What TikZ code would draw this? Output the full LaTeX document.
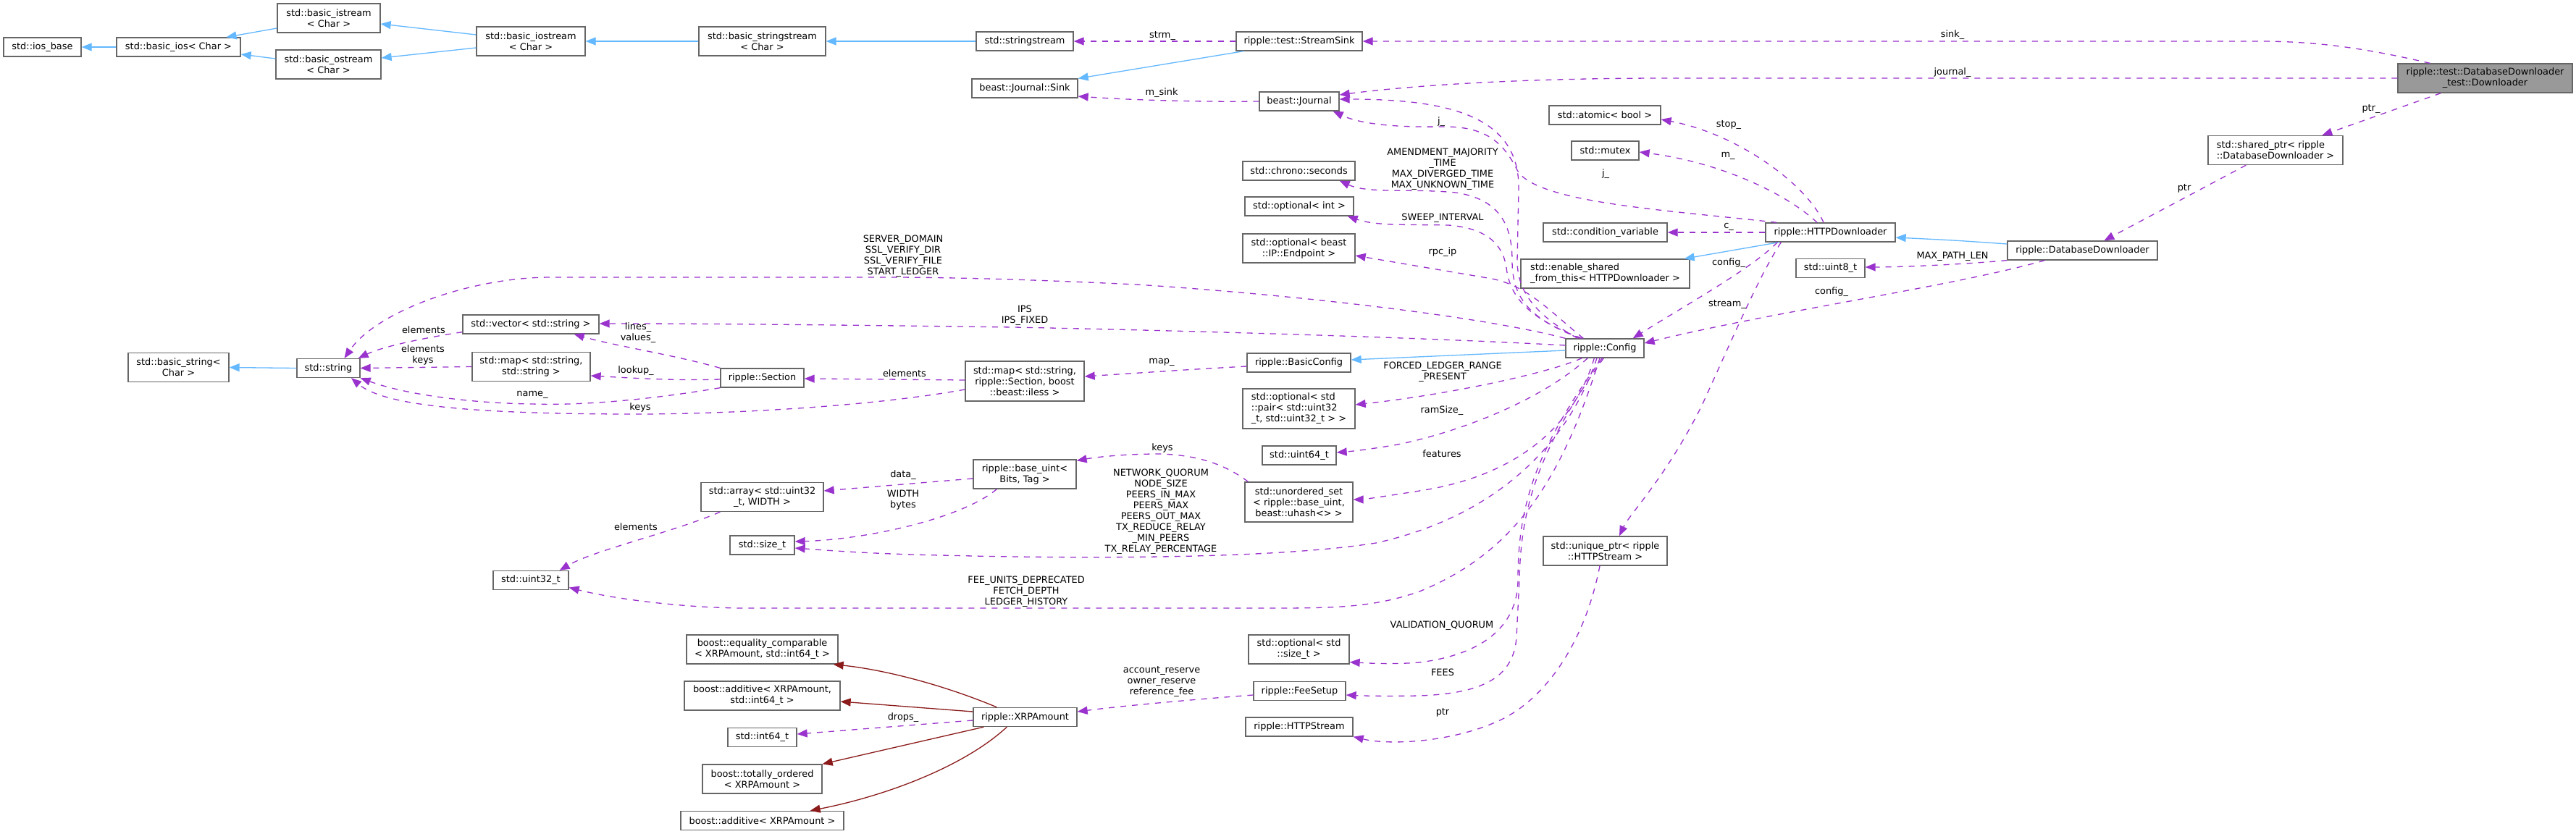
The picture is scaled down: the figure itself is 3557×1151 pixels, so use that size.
\documentclass[tikz,border=0pt]{standalone}
\usepackage{fontspec}
\setmainfont{DejaVu Sans}
\usetikzlibrary{arrows.meta}
\definecolor{inhc}{HTML}{63B8FF}
\definecolor{usec}{HTML}{9A32CD}
\definecolor{privc}{HTML}{8B1A1A}
\definecolor{bordc}{HTML}{666666}
\definecolor{mainc}{HTML}{999999}
\begin{document}
\begin{tikzpicture}[x=1pt,y=-1pt,
  every node/.style={font=\fontsize{12.9}{15}\selectfont},
  nbox/.style={draw=bordc,line width=1.3pt,fill=white,inner sep=1pt,align=center},
  sz/.style 2 args={minimum width=#1pt,minimum height=#2pt},
  lbl/.style={inner sep=0pt,align=center},
  inh/.style={draw=inhc,line width=1.3pt,-{Triangle[length=14pt,width=11pt]}},
  priv/.style={draw=privc,line width=1.3pt,-{Triangle[length=14pt,width=11pt]}},
  usage/.style={draw=usec,line width=1.3pt,dash pattern=on 8pt off 8pt,-{Triangle[length=14pt,width=11pt]}}]
\useasboundingbox (0,0) rectangle (3557,1151);
\fill[white] (0,0) rectangle (3557,1151);

% nodes
\node[nbox,sz={107}{26}] (iosbase) at (58.5,65) {std::ios\_base};
\node[nbox,sz={171}{26}] (basicios) at (246.5,65) {std::basic\_ios< Char >};
\node[nbox,sz={142}{40}] (istream) at (454,25) {std::basic\_istream\\< Char >};
\node[nbox,sz={145}{40}] (ostream) at (453.5,89) {std::basic\_ostream\\< Char >};
\node[nbox,sz={150}{40}] (iostream) at (733,57) {std::basic\_iostream\\< Char >};
\node[nbox,sz={175}{40}] (bsstream) at (1052.5,57) {std::basic\_stringstream\\< Char >};
\node[nbox,sz={134}{26}] (sstream) at (1415,57) {std::stringstream};
\node[nbox,sz={146}{26}] (sink) at (1415,122) {beast::Journal::Sink};
\node[nbox,sz={174}{26}] (streamsink) at (1794,57) {ripple::test::StreamSink};
\node[nbox,sz={110}{26}] (journal) at (1794,140) {beast::Journal};
\node[nbox,sz={155}{26}] (seconds) at (1793.5,236) {std::chrono::seconds};
\node[nbox,sz={150}{26}] (optint) at (1794,285) {std::optional< int >};
\node[nbox,sz={155}{40}] (optep) at (1793.5,343) {std::optional< beast\\::IP::Endpoint >};
\node[nbox,sz={154}{26}] (atomic) at (2216,159) {std::atomic< bool >};
\node[nbox,sz={93}{26}] (mutex) at (2216.5,208) {std::mutex};
\node[nbox,sz={171}{26}] (condvar) at (2216.5,321) {std::condition\_variable};
\node[nbox,sz={179}{26}] (httpdl) at (2527.5,321) {ripple::HTTPDownloader};
\node[nbox,sz={233}{40},align=left] (enablesh) at (2216.5,378) {std::enable\_shared\\\_from\_this< HTTPDownloader >};
\node[nbox,sz={95}{26}] (uint8) at (2527.5,370.5) {std::uint8\_t};
\node[nbox,sz={241}{40},fill=mainc] (test) at (3431.5,108) {ripple::test::DatabaseDownloader\\\_test::Downloader};
\node[nbox,sz={186}{40},align=left] (sharedptr) at (3142,207.5) {std::shared\_ptr< ripple\\::DatabaseDownloader >};
\node[nbox,sz={207}{26}] (dbdl) at (2875.5,346) {ripple::DatabaseDownloader};
\node[nbox,sz={139}{40}] (basicstr) at (246.5,507.5) {std::basic\_string<\\Char >};
\node[nbox,sz={87}{26}] (string) at (453.5,508.5) {std::string};
\node[nbox,sz={188}{26}] (vecstr) at (733,448) {std::vector< std::string >};
\node[nbox,sz={163}{40}] (mapss) at (733.5,506.5) {std::map< std::string,\\std::string >};
\node[nbox,sz={115}{26}] (section) at (1052.5,522) {ripple::Section};
\node[nbox,sz={164}{55}] (mapsec) at (1415,526.5) {std::map< std::string,\\ripple::Section, boost\\::beast::iless >};
\node[nbox,sz={143}{26}] (basiccfg) at (1793.5,501) {ripple::BasicConfig};
\node[nbox,sz={155}{55},align=left] (optpair) at (1793.5,564.5) {std::optional< std\\::pair< std::uint32\\\_t, std::uint32\_t > >};
\node[nbox,sz={102}{26}] (uint64) at (1794,629) {std::uint64\_t};
\node[nbox,sz={149}{55}] (uset) at (1793.5,693.5) {std::unordered\_set\\< ripple::base\_uint,\\beast::uhash<> >};
\node[nbox,sz={108}{26}] (config) at (2216,481) {ripple::Config};
\node[nbox,sz={171}{40}] (uniqptr) at (2216.5,761) {std::unique\_ptr< ripple\\::HTTPStream >};
\node[nbox,sz={142}{40}] (baseuint) at (1415,655) {ripple::base\_uint<\\Bits, Tag >};
\node[nbox,sz={169}{40}] (array) at (1052.5,686.5) {std::array< std::uint32\\\_t, WIDTH >};
\node[nbox,sz={89}{26}] (sizet) at (1052.5,753) {std::size\_t};
\node[nbox,sz={104}{26}] (uint32) at (733,801.5) {std::uint32\_t};
\node[nbox,sz={209}{40}] (eqcmp) at (1052.5,897) {boost::equality\_comparable\\< XRPAmount, std::int64\_t >};
\node[nbox,sz={215}{40}] (addint) at (1052.5,961) {boost::additive< XRPAmount,\\std::int64\_t >};
\node[nbox,sz={95}{26}] (int64) at (1052.5,1018.5) {std::int64\_t};
\node[nbox,sz={165}{40}] (totord) at (1052.5,1076) {boost::totally\_ordered\\< XRPAmount >};
\node[nbox,sz={225}{26}] (addx) at (1052.5,1133.5) {boost::additive< XRPAmount >};
\node[nbox,sz={143}{26}] (xrp) at (1415.5,990.5) {ripple::XRPAmount};
\node[nbox,sz={139}{40}] (optsize) at (1793.5,897) {std::optional< std\\::size\_t >};
\node[nbox,sz={127}{26}] (feesetup) at (1794.5,954.5) {ripple::FeeSetup};
\node[nbox,sz={148}{26}] (httpstream) at (1794,1004) {ripple::HTTPStream};

% inheritance
\draw[inh] (basicios.west) -- (iosbase.east);
\draw[inh] ([yshift=-14]istream.west) -- ([xshift=66]basicios.north);
\draw[inh] ([yshift=8]ostream.west) -- ([yshift=-10]basicios.east);
\draw[inh] ([yshift=9]iostream.west) -- ([yshift=-8]istream.east);
\draw[inh] ([yshift=-9]iostream.west) -- ([yshift=9]ostream.east);
\draw[inh] (bsstream.west) -- (iostream.east);
\draw[inh] (sstream.west) -- (bsstream.east);
\draw[inh] ([xshift=11]streamsink.south west) -- (sink.north east);
\draw[inh] (string.west) -- (basicstr.east);
\draw[inh] ([yshift=-3]config.west) -- ([yshift=4]basiccfg.east);
\draw[inh] ([xshift=19]httpdl.south west) -- ([xshift=-8]enablesh.north east);
\draw[inh] ([yshift=9]dbdl.west) .. controls (2700,332) .. ([yshift=-7]httpdl.east);

% private inheritance
\draw[priv] ([xshift=33]xrp.north west) .. controls (1300,945) and (1220,925) .. ([xshift=-7]eqcmp.south east);
\draw[priv] ([yshift=7.5]xrp.west) -- ([yshift=-8]addint.east);
\draw[priv] ([xshift=15]xrp.south west) -- (totord.north east);
\draw[priv] ([xshift=47]xrp.south west) .. controls (1330,1060) and (1220,1100) .. ([xshift=-47]addx.north east);

% usage
\draw[usage] (streamsink.west) -- (sstream.east);
\draw[usage] (journal.west) .. controls (1650,141) and (1560,138) .. ([yshift=-11]sink.east);
\draw[usage] ([xshift=45]test.north west) .. controls (3280,70) and (3210,57) .. (3120,57) -- (streamsink.east);
\draw[usage] (test.west) -- (2300,108) .. controls (2100,108) and (1950,118) .. ([yshift=9]journal.east);
\draw[usage] ([xshift=60]test.south west) -- ([xshift=158]sharedptr.north west);
\draw[usage] ([xshift=53]sharedptr.south west) -- ([xshift=134]dbdl.north west);
\draw[usage] ([xshift=16]httpdl.north west) .. controls (2300,290) and (2120,280) .. (2095,235) .. controls (2075,195) and (2050,174) .. (1990,175) .. controls (1930,176) and (1880,172) .. ([xshift=-9]journal.south east);
\draw[usage] ([xshift=17]config.north west) .. controls (2130,440) and (2095,410) .. (2095,360) -- (2097,260) .. controls (2098,160) and (2000,137) .. ([yshift=3]journal.east);
\draw[usage] ([xshift=21]config.north west) .. controls (2110,440) and (2088,410) .. (2088,360) .. controls (2088,310) and (2070,275) .. (2010,266) .. controls (1950,260) and (1890,268) .. ([xshift=-22]seconds.south east);
\draw[usage] ([xshift=23]config.north west) .. controls (2110,440) and (2085,410) .. (2080,370) .. controls (2075,335) and (2050,315) .. (2000,311) .. controls (1940,310) and (1900,312) .. ([xshift=-9]optint.south east);
\draw[usage] ([xshift=25]config.north west) .. controls (2140,430) and (2110,395) .. (2060,385) -- ([yshift=-10]optep.east);
\draw[usage] (config.north west) .. controls (2050,438) and (1800,408) .. (1569,393) .. controls (1400,385) and (1300,383) .. (1224,383) -- (760,383) .. controls (650,383) and (520,430) .. ([xshift=22]string.north);
\draw[usage] ([yshift=4]config.west) .. controls (2000,468) and (1700,458) .. (1400,452) .. controls (1100,448) and (950,447) .. ([yshift=1]vecstr.east);
\draw[usage] (section.north west) .. controls (930,490) and (850,478) .. ([xshift=-35]vecstr.south east);
\draw[usage] ([yshift=3]vecstr.south west) .. controls (590,466) and (530,478) .. ([xshift=-3]string.north east);
\draw[usage] (mapss.west) -- (string.east);
\draw[usage] ([yshift=-2]section.west) .. controls (930,526) and (870,522) .. ([yshift=-12.5]mapss.east);
\draw[usage] (section.south west) .. controls (880,555) and (790,560) .. (735,558) .. controls (650,557) and (560,545) .. (string.south east);
\draw[usage] ([yshift=-11.5]mapsec.west) .. controls (1200,562) and (1000,572) .. (880,572) .. controls (650,572) and (530,560) .. ([xshift=31.5]string.south);
\draw[usage] ([yshift=1.5]mapsec.west) -- ([yshift=-1]section.east);
\draw[usage] ([yshift=-5]basiccfg.west) .. controls (1650,510) .. ([yshift=6.5]mapsec.east);
\draw[usage] ([yshift=-6]baseuint.west) -- ([yshift=8.5]array.east);
\draw[usage] ([xshift=33]baseuint.south west) .. controls (1330,715) and (1200,745) .. ([yshift=5]sizet.east);
\draw[usage] ([xshift=27]array.south west) .. controls (930,735) and (820,760) .. ([xshift=-13]uint32.north east);
\draw[usage] ([xshift=5]uset.north west) .. controls (1690,640) and (1650,628) .. (1600,627) .. controls (1550,627) and (1510,632) .. ([yshift=-2]baseuint.north east);
\draw[usage] ([xshift=-11]config.south) .. controls (2170,600) and (2080,710) .. (1900,750) .. controls (1760,772) and (1500,772) .. (1300,767) .. controls (1200,765) and (1140,760) .. ([yshift=-4]sizet.east);
\draw[usage] ([xshift=-7]config.south) .. controls (2160,650) and (2100,760) .. (1960,817) .. controls (1900,838) and (1850,840) .. (1760,840) -- (1030,840) .. controls (950,840) and (850,828) .. ([yshift=-10]uint32.east);
\draw[usage] ([xshift=23]config.south west) .. controls (2140,515) and (2000,545) .. ([yshift=5.5]optpair.east);
\draw[usage] ([xshift=31]config.south west) .. controls (2120,560) and (2000,600) .. (1930,614) .. controls (1890,621) and (1860,624) .. ([yshift=4]uint64.east);
\draw[usage] ([xshift=40]config.south west) .. controls (2170,600) and (2080,660) .. (1960,678) .. controls (1910,686) and (1880,690) .. ([yshift=3.5]uset.east);
\draw[usage] ([xshift=51]config.south west) .. controls (2120,620) and (2096,700) .. (2096,800) .. controls (2096,870) and (2040,905) .. (1960,915) .. controls (1920,918) and (1890,916) .. ([yshift=3]optsize.south east);
\draw[usage] ([xshift=53]config.south west) .. controls (2125,620) and (2100,700) .. (2098,800) -- (2094,880) .. controls (2090,940) and (2040,958) .. (1960,961) .. controls (1910,962) and (1880,961) .. ([yshift=-5.5]feesetup.east);
\draw[usage] ([yshift=-5.5]feesetup.west) .. controls (1650,966) and (1550,975) .. ([yshift=7.5]xrp.east);
\draw[usage] ([yshift=-4.5]xrp.west) -- ([yshift=4.5]int64.east);
\draw[usage] ([xshift=-7.5]uniqptr.south) .. controls (2190,880) and (2140,960) .. (2075,993) .. controls (2010,1025) and (1920,1030) .. (httpstream.south east);
\draw[usage] ([xshift=-9.5]httpdl.north) .. controls (2495,255) and (2400,185) .. ([yshift=-6]atomic.east);
\draw[usage] ([xshift=-18.5]httpdl.north) .. controls (2470,270) and (2380,225) .. ([yshift=-2]mutex.east);
\draw[usage] (httpdl.west) -- (condvar.east);
\draw[usage] ([xshift=17]httpdl.south west) .. controls (2420,370) and (2330,420) .. ([xshift=-16]config.north east);
\draw[usage] ([xshift=22]httpdl.south west) .. controls (2430,380) and (2400,450) .. (2350,560) .. controls (2300,660) and (2250,710) .. ([xshift=19.5]uniqptr.north);
\draw[usage] (dbdl.south west) .. controls (2700,366) and (2620,369) .. ([yshift=1.5]uint8.east);
\draw[usage] ([xshift=52]dbdl.south west) .. controls (2700,395) and (2450,430) .. ([yshift=7]config.east);

% labels
\node[lbl] (l1) at (1605,49) {strm\_};
\node[lbl] (l2) at (1604,128) {m\_sink};
\node[lbl] (l3) at (2696,48) {sink\_};
\node[lbl] (l4) at (2696,100) {journal\_};
\node[lbl] (l5) at (3274,150) {ptr\_};
\node[lbl] (l6) at (3016,260) {ptr};
\node[lbl] (l7) at (1990,168) {j\_};
\node[lbl] (l8) at (2217,240) {j\_};
\node[lbl] (l9) at (1992,234) {AMENDMENT\_MAJORITY\\\_TIME\\MAX\_DIVERGED\_TIME\\MAX\_UNKNOWN\_TIME};
\node[lbl] (l10) at (1992,301) {SWEEP\_INTERVAL};
\node[lbl] (l11) at (1992,348) {rpc\_ip};
\node[lbl] (l12) at (2387,172) {stop\_};
\node[lbl] (l13) at (2386,215) {m\_};
\node[lbl] (l14) at (2387,313) {c\_};
\node[lbl] (l15) at (2387,363) {config\_};
\node[lbl] (l16) at (2696,354) {MAX\_PATH\_LEN};
\node[lbl] (l17) at (2385,420) {stream\_};
\node[lbl] (l18) at (2529,403) {config\_};
\node[lbl] (l19) at (1247,354) {SERVER\_DOMAIN\\SSL\_VERIFY\_DIR\\SSL\_VERIFY\_FILE\\START\_LEDGER};
\node[lbl] (l20) at (1415,436) {IPS\\IPS\_FIXED};
\node[lbl] (l21) at (881,460) {lines\_\\values\_};
\node[lbl] (l22) at (585,456) {elements};
\node[lbl] (l23) at (584,490) {elements\\keys};
\node[lbl] (l24) at (878,512) {lookup\_};
\node[lbl] (l25) at (735,545) {name\_};
\node[lbl] (l26) at (884,563) {keys};
\node[lbl] (l27) at (1249,516) {elements};
\node[lbl] (l28) at (1604,500) {map\_};
\node[lbl] (l29) at (1992,514) {FORCED\_LEDGER\_RANGE\\\_PRESENT};
\node[lbl] (l30) at (1991,567) {ramSize\_};
\node[lbl] (l31) at (1991,627) {features};
\node[lbl] (l32) at (1605,619) {keys};
\node[lbl] (l33) at (1247,656) {data\_};
\node[lbl] (l34) at (1247,691) {WIDTH\\bytes};
\node[lbl] (l35) at (1603,707) {NETWORK\_QUORUM\\NODE\_SIZE\\PEERS\_IN\_MAX\\PEERS\_MAX\\PEERS\_OUT\_MAX\\TX\_REDUCE\_RELAY\\\_MIN\_PEERS\\TX\_RELAY\_PERCENTAGE};
\node[lbl] (l36) at (878,728) {elements};
\node[lbl] (l37) at (1417,817) {FEE\_UNITS\_DEPRECATED\\FETCH\_DEPTH\\LEDGER\_HISTORY};
\node[lbl] (l38) at (1991,864) {VALIDATION\_QUORUM};
\node[lbl] (l39) at (1992,929) {FEES};
\node[lbl] (l40) at (1604,941) {account\_reserve\\owner\_reserve\\reference\_fee};
\node[lbl] (l41) at (1247,991) {drops\_};
\node[lbl] (l42) at (1992,984) {ptr};
\end{tikzpicture}
\end{document}
